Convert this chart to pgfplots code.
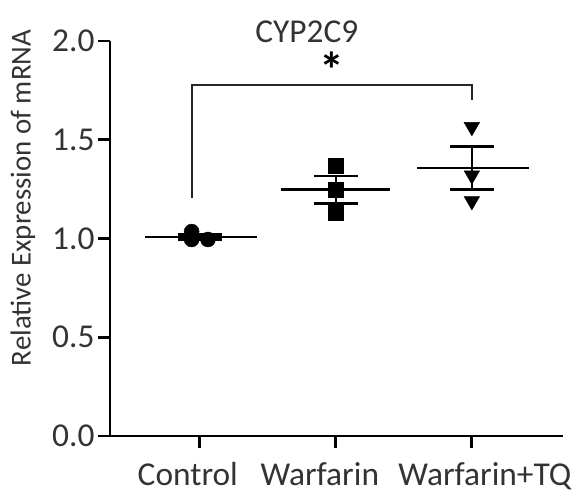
\documentclass[border=0pt]{standalone}
\usepackage{fontspec}
\setmainfont{Carlito}
\usepackage{pgfplots}
\pgfplotsset{compat=1.18}

\newcommand{\lab}{\fontsize{33.5}{40}\selectfont}

\begin{document}
\begin{tikzpicture}
\begin{axis}[
  scale only axis, width=453bp, height=395bp,
  xmin=-0.66, xmax=2.67, ymin=0, ymax=2,
  axis lines*=left,
  axis line style={line width=2.8bp, black},
  every tick/.style={black, line width=2.8bp},
  tick align=outside, major tick length=12bp,
  xtick={0,1,2}, xticklabels={},
  ytick={0,0.5,1,1.5,2},
  yticklabel style={/pgf/number format/.cd, fixed, fixed zerofill, precision=1, assume math mode=true},
  ticklabel style={font=\lab, text=black!80},
  clip=false,
]
% scatter points
\addplot[only marks, mark=*, mark size=7.5bp, black] coordinates {(-0.06,1.035) (-0.06,0.995) (0.06,0.995)};
\addplot[only marks, mark=square*, mark size=7.5bp, black] coordinates {(1,1.367) (1,1.246) (1,1.129)};
\addplot[only marks, mark=triangle*, mark size=9bp, mark options={rotate=180}, black] coordinates {(2,1.565) (2,1.32) (2,1.19)};

% means
\addplot[black, line width=2.5bp, mark=none] coordinates {(-0.4,1.008) (0.42,1.008)};
\addplot[black, line width=2.5bp, mark=none] coordinates {(0.6,1.247) (1.4,1.247)};
\addplot[black, line width=2.5bp, mark=none] coordinates {(1.6,1.358) (2.42,1.358)};

% SEM
\addplot[draw=none, mark=none, forget plot,
  error bars/.cd, y dir=both, y explicit,
  error bar style={draw=black, line width=2.5bp},
  error mark options={draw=black, line width=2.5bp, mark size=22bp, rotate=90}]
  coordinates {(0,1.008) +- (0,0.012) (1,1.247) +- (0,0.07) (2,1.358) +- (0,0.109)};

% significance bracket
\addplot[black!85, line width=2bp, mark=none, sharp plot] coordinates {(-0.06,1.205) (-0.06,1.777) (2,1.777) (2,1.70)};

\node[font=\fontsize{50}{50}\bfseries, inner sep=0pt] at (axis cs:0.97,1.855) {*};
\node[font=\lab, text=black!80] at (axis cs:0.787,2.046) {CYP2C9};
\node[font=\fontsize{29}{35}\selectfont, text=black!80, rotate=90] at (axis cs:-1.301,1.205) {Relative Expression of mRNA};

\node[font=\lab, text=black!80, anchor=base, inner sep=0pt] at (axis cs:-0.088,-0.25) {Control};
\node[font=\lab, text=black!80, anchor=base, inner sep=0pt] at (axis cs:0.882,-0.25) {Warfarin};
\node[font=\lab, text=black!80, anchor=base, inner sep=0pt] at (axis cs:2.096,-0.25) {Warfarin+TQ};

\path (rel axis cs:0,0) coordinate (O);
\end{axis}
\pgfresetboundingbox
\path[use as bounding box] ([shift={(-110bp,-59bp)}]O) rectangle ([shift={(469bp,436bp)}]O);
\end{tikzpicture}
\end{document}
